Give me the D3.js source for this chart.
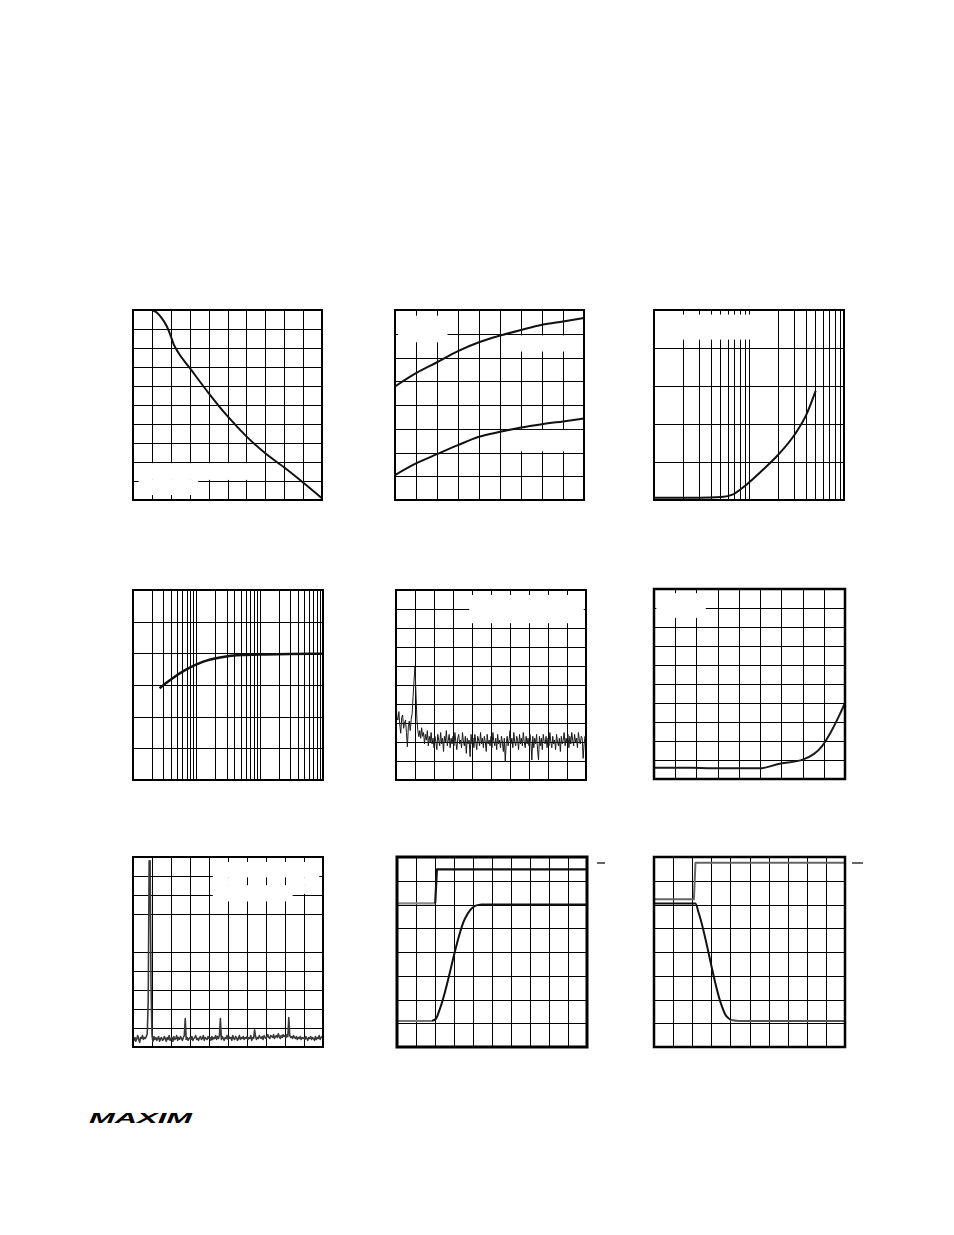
<!DOCTYPE html>
<html><head><meta charset="utf-8">
<script src="https://cdn.jsdelivr.net/npm/d3@7"></script>
<style>html,body{margin:0;padding:0;background:#fff;} svg{display:block;}</style>
</head><body>
<svg id="page" width="954" height="1235"></svg>
<script>
// ---------------- DATA (grid units) ----------------
// Panel 1: falling curve (10 x 10 grid)
const c1X = [1.0, 1.27, 1.53, 1.8, 1.98, 2.15, 2.42, 3.0, 4.0, 5.0, 6.0, 7.0, 8.06, 8.95, 10.0];
const c1Y = [10.0, 9.86, 9.56, 9.12, 8.68, 8.2, 7.72, 6.95, 5.63, 4.41, 3.35, 2.46, 1.67, 0.96, 0.09];

// Panel 2: two rising curves (9 x 8 grid)
const c2X = [0, 1, 2, 3, 4, 5, 6, 7, 8, 9];
const c2Upper = [4.78, 5.34, 5.80, 6.27, 6.64, 6.92, 7.16, 7.38, 7.52, 7.66];
const c2Lower = [1.05, 1.54, 1.93, 2.31, 2.66, 2.87, 3.05, 3.19, 3.31, 3.43];

// Panel 3: log x (1..100), 5 rows
const c3X = [1, 3, 5.13, 6.81, 9.04, 13.55, 20.3, 30.4, 40.4, 50.3];
const c3Y = [0.06, 0.06, 0.08, 0.15, 0.37, 0.765, 1.19, 1.73, 2.26, 2.87];

// Panel 4: log x (1..1000), 6 rows
const c4X = [2.63, 3.86, 7.08, 12.9, 23.7, 43.2, 100, 300, 1000];
const c4Y = [2.9, 3.16, 3.5, 3.74, 3.87, 3.94, 3.96, 3.98, 3.99];

// Panel 5: noise spectrum, samples every 0.05 grid column (10 x 10 grid)
const c5Step = 0.05;
const c5Y = [3.86,3.3,3.16,3.6,2.9,2.46,3.3,3.42,2.72,3.0,3.16,2.5,1.75,2.8,3.1,2.6,3.2,3.5,4.4,5.26,5.96,4.6,3.2,2.6,2.28,
  2.6,2.2,2.75,2.3,2.5,1.9,2.4,2.1,2.6,1.8,2.3,2.0,2.5,1.9,2.2,
  1.7,2.3,2.0,1.6,2.4,2.1,1.8,2.5,1.9,2.2,1.5,2.3,2.0,2.6,1.8,2.1,2.4,1.7,2.2,1.9,
  2.3,1.8,2.5,2.0,1.6,2.2,2.4,1.9,2.1,1.7,2.5,2.0,1.8,2.3,1.4,2.2,1.9,2.1,1.23,2.4,
  1.9,2.2,1.7,2.4,2.0,1.6,2.3,2.1,1.8,2.5,1.9,2.2,1.7,2.3,2.0,1.5,2.4,1.9,2.1,1.8,
  2.3,1.7,2.5,2.0,1.8,2.2,1.6,2.4,1.9,2.1,1.7,2.3,2.0,1.5,2.2,0.96,1.9,2.3,1.8,2.1,
  2.6,1.9,2.2,1.7,2.5,2.0,1.8,2.3,2.1,1.6,2.4,1.9,2.2,1.8,2.5,2.0,1.7,2.3,1.9,2.2,
  1.8,2.4,2.0,1.05,2.3,1.7,2.2,1.9,2.4,1.6,1.05,2.3,1.8,2.2,1.6,2.4,2.0,1.9,2.3,1.7,
  2.2,1.8,2.5,2.0,1.7,2.3,1.9,2.1,1.6,2.4,2.0,1.8,2.2,1.5,2.3,1.9,2.1,2.5,1.8,2.2,
  2.0,2.4,1.7,2.3,1.9,2.5,2.1,1.8,2.4,2.0,2.2,1.7,2.5,2.1,1.9,2.3,2.2,1.14,1.9,2.3,2.0];

// Panel 6: curve rising at the right (9 x 10 grid)
const c6X = [0, 1.76, 2.7, 5.0, 5.86, 7.04, 7.9, 8.38, 8.77, 9.0];
const c6Y = [0.59, 0.59, 0.56, 0.56, 0.79, 1.03, 1.7, 2.57, 3.44, 4.0];

// Panel 7: spectrum with a tall tone, samples every 0.05 column (10 x 10 grid)
const c7Step = 0.05;
const c7Y = [0.55,0.35,0.5,0.3,0.45,0.6,0.4,0.25,0.5,0.45,0.6,0.4,0.5,0.45,0.55,0.7,2.4,9.8,9.8,3.2,
  0.6,0.3,0.55,0.4,0.5,0.35,0.45,0.55,0.3,0.45,0.5,0.35,0.4,0.55,0.45,0.3,0.5,0.4,0.6,0.35,
  0.45,0.5,0.3,0.55,0.4,0.45,0.6,0.35,0.5,0.4,0.55,0.45,0.35,0.5,0.6,1.5,0.4,0.5,0.35,0.45,
  0.5,0.4,0.55,0.35,0.45,0.5,0.6,0.4,0.45,0.35,0.5,0.55,0.4,0.45,0.6,0.35,0.5,0.45,0.4,0.55,
  0.45,0.5,0.35,0.55,0.4,0.5,0.45,0.6,0.4,0.55,0.45,0.6,1.5,0.4,0.55,0.45,0.35,0.5,0.45,0.6,
  0.4,0.55,0.45,0.5,0.35,0.6,0.45,0.4,0.55,0.5,0.35,0.45,0.6,0.4,0.5,0.45,0.55,0.4,0.5,0.45,
  0.55,0.4,0.5,0.45,0.6,0.35,0.5,0.45,0.9,0.55,0.4,0.5,0.45,0.6,0.5,0.45,0.55,0.4,0.6,0.5,
  0.45,0.55,0.65,0.5,0.45,0.6,0.55,0.5,0.65,0.45,0.55,0.6,0.5,0.7,0.55,0.45,0.6,0.5,0.65,0.55,
  0.6,0.5,0.65,0.55,1.55,0.6,0.5,0.55,0.45,0.6,0.5,0.45,0.55,0.4,0.5,0.45,0.55,0.4,0.5,0.45,
  0.5,0.4,0.55,0.45,0.35,0.5,0.45,0.55,0.4,0.5,0.45,0.35,0.55,0.4,0.5,0.45,0.6,0.4,0.5,0.55,0.45];

// Panel 8: step (top) and rising ramp (bottom) (10 x 8 grid)
const c8TopX = [0, 2.01, 2.1, 10];
const c8TopY = [6.05, 6.05, 7.48, 7.48];
const c8BotX = [0, 1.84, 2.05, 2.27, 3.58, 3.85, 4.11, 4.46, 10];
const c8BotY = [1.1, 1.1, 1.19, 1.64, 5.41, 5.76, 5.94, 6.0, 6.0];

// Panel 9: step (top) and falling ramp (bottom) (10 x 8 grid)
const c9TopX = [0, 2.09, 2.17, 10];
const c9TopY = [6.22, 6.22, 7.76, 7.76];
const c9BotX = [0, 2.17, 2.35, 3.53, 3.74, 4.0, 4.43, 10];
const c9BotY = [6.04, 6.04, 5.62, 1.77, 1.36, 1.15, 1.1, 1.1];

// ---------------- DRAWING ----------------
const svg = d3.select('#page');
svg.append('rect').attr('width', 954).attr('height', 1235).attr('fill', '#fff');

function zip(xs, ys) { return xs.map((x, i) => [x, ys[i]]); }
function stepped(ys, step) { return ys.map((y, i) => [i * step, y]); }

function panel(cfg) {
  const g = svg.append('g').attr('transform', `translate(${cfg.left},${cfg.top})`);
  const w = cfg.w, h = cfg.h;
  const x = cfg.log ? d3.scaleLog().domain(cfg.xDomain).range([0, w])
                    : d3.scaleLinear().domain(cfg.xDomain).range([0, w]);
  const y = d3.scaleLinear().domain(cfg.yDomain).range([h, 0]);

  const xt = cfg.log ? x.ticks().filter(t => t > cfg.xDomain[0] && t < cfg.xDomain[1])
                     : d3.range(cfg.xDomain[0] + 1, cfg.xDomain[1]);
  let yt = d3.range(cfg.yDomain[0] + 1, cfg.yDomain[1]);
  if (cfg.skipRows) yt = yt.filter(v => !cfg.skipRows.includes(v));

  const gx = g.append('g').attr('transform', `translate(0,${h})`)
    .call(d3.axisBottom(x).tickValues(xt).tickSize(-h).tickFormat(''));
  const gy = g.append('g')
    .call(d3.axisLeft(y).tickValues(yt).tickSize(-w).tickFormat(''));
  [gx, gy].forEach(a => {
    a.select('.domain').remove();
    a.selectAll('line').attr('stroke', '#000').attr('stroke-width', 1).attr('shape-rendering', 'crispEdges');
  });

  // blanked label areas
  (cfg.masks || []).forEach(m => {
    const x0 = x(m[0]), x1 = x(m[1]), y0 = y(m[3]), y1 = y(m[2]);
    g.append('rect').attr('x', x0).attr('y', y0).attr('width', x1 - x0).attr('height', y1 - y0).attr('fill', '#fff');
  });

  // series
  (cfg.series || []).forEach(s => {
    const line = d3.line().x(d => x(d[0])).y(d => y(d[1])).curve(s.curve || d3.curveLinear);
    if (s.split != null) {
      g.append('path').attr('d', line(s.pts.slice(0, s.split + 1))).attr('fill', 'none')
        .attr('stroke', s.colors[0]).attr('stroke-width', s.width).attr('stroke-linejoin', 'round');
      g.append('path').attr('d', line(s.pts.slice(s.split))).attr('fill', 'none')
        .attr('stroke', s.colors[1]).attr('stroke-width', s.width).attr('stroke-linejoin', 'round');
    } else {
      g.append('path').attr('d', line(s.pts)).attr('fill', 'none')
        .attr('stroke', s.color).attr('stroke-width', s.width).attr('stroke-linejoin', 'round');
    }
  });

  // frame
  g.append('rect').attr('x', 0).attr('y', 0).attr('width', w).attr('height', h)
    .attr('fill', 'none').attr('stroke', '#000').attr('stroke-width', cfg.frame || 2);

  if (cfg.marker) {
    g.append('line').attr('x1', w + cfg.marker[0]).attr('x2', w + cfg.marker[1])
      .attr('y1', cfg.marker[2]).attr('y2', cfg.marker[2])
      .attr('stroke', '#000').attr('stroke-width', 1.2);
  }
}

// Row 1
panel({ left: 133, top: 310, w: 189, h: 190, xDomain: [0, 10], yDomain: [0, 10],
  masks: [[0.06, 6.3, 1.06, 1.94], [0.3, 3.45, 0.26, 1.06]],
  series: [{ pts: zip(c1X, c1Y), color: '#111', width: 2, curve: d3.curveMonotoneX }] });

panel({ left: 395, top: 310, w: 189, h: 190, xDomain: [0, 9], yDomain: [0, 8],
  masks: [[0.15, 2.5, 6.64, 7.76], [5.1, 8.95, 6.25, 6.93], [5.1, 8.95, 2.05, 2.95]],
  series: [{ pts: zip(c2X, c2Upper), color: '#111', width: 2, curve: d3.curveMonotoneX },
           { pts: zip(c2X, c2Lower), color: '#111', width: 2, curve: d3.curveMonotoneX }] });

panel({ left: 654, top: 310, w: 190, h: 190, log: true, xDomain: [1, 100], yDomain: [0, 5],
  masks: [[1.02, 19.5, 4.22, 4.88]],
  series: [{ pts: zip(c3X, c3Y), color: '#111', width: 2, curve: d3.curveMonotoneX }] });

// Row 2
panel({ left: 133, top: 590, w: 190, h: 190, log: true, xDomain: [1, 1000], yDomain: [0, 6],
  series: [{ pts: zip(c4X, c4Y), color: '#111', width: 2.5, curve: d3.curveMonotoneX }] });

panel({ left: 396, top: 590, w: 190, h: 190, xDomain: [0, 10], yDomain: [0, 10],
  masks: [[3.85, 9.88, 8.25, 9.74]],
  series: [{ pts: stepped(c5Y, c5Step), color: '#1a1a1a', width: 1 }] });

panel({ left: 654, top: 589, w: 191, h: 190, xDomain: [0, 9], yDomain: [0, 10], frame: 2.5,
  masks: [[0.11, 2.44, 8.48, 9.78]],
  series: [{ pts: zip(c6X, c6Y), color: '#1a1a1a', width: 2, curve: d3.curveMonotoneX }] });

// Row 3
panel({ left: 133, top: 857, w: 190, h: 190, xDomain: [0, 10], yDomain: [0, 10], skipRows: [6],
  masks: [[4.2, 9.8, 8.93, 9.74], [4.2, 5.93, 8.52, 8.93], [6.07, 6.93, 8.52, 8.93],
          [7.07, 7.93, 8.52, 8.93], [8.07, 9.8, 8.52, 8.93], [4.2, 8.4, 7.66, 8.52], [8.4, 9.8, 8.06, 8.52]],
  series: [{ pts: stepped(c7Y, c7Step), color: '#3a3a3a', width: 1.6 }] });

panel({ left: 397, top: 857, w: 190, h: 190, xDomain: [0, 10], yDomain: [0, 8], frame: 3,
  marker: [10, 18, 6],
  series: [{ pts: zip(c8TopX, c8TopY), colors: ['#888', '#111'], split: 1, width: 2.2 },
           { pts: zip(c8BotX, c8BotY), colors: ['#777', '#111'], split: 1, width: 2, curve: d3.curveMonotoneX }] });

panel({ left: 654, top: 857, w: 191, h: 190, xDomain: [0, 10], yDomain: [0, 8], frame: 2.5,
  marker: [7, 18, 6],
  series: [{ pts: zip(c9TopX, c9TopY), color: '#666', width: 2 },
           { pts: zip(c9BotX, c9BotY), colors: ['#111', '#555'], split: 5, width: 2, curve: d3.curveMonotoneX }] });

// Logo
svg.append('text').attr('x', 89).attr('y', 1123)
  .attr('font-family', 'Liberation Sans, Arial, sans-serif')
  .attr('font-weight', 900).attr('font-style', 'italic')
  .attr('font-size', 14).attr('textLength', 103).attr('lengthAdjust', 'spacingAndGlyphs')
  .attr('fill', '#000').text('MAXIM');
</script>
</body></html>
